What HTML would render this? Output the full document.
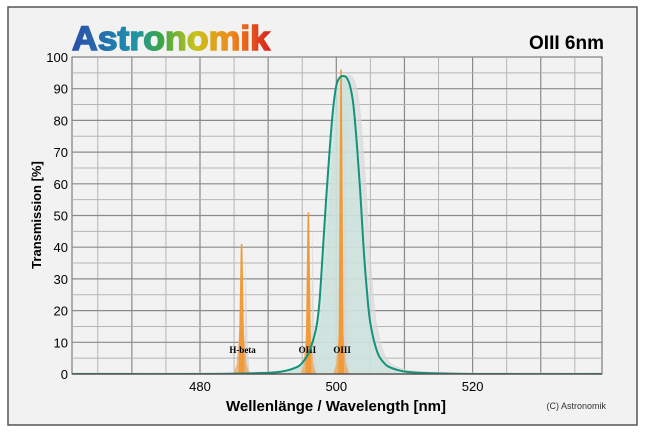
<!DOCTYPE html>
<html><head><meta charset="utf-8"><style>
body{margin:0;width:646px;height:437px;background:#fff;overflow:hidden;font-family:"Liberation Sans",sans-serif}
</style></head><body>
<svg width="646" height="437" xmlns="http://www.w3.org/2000/svg">
<defs>
<linearGradient id="lg" x1="0" x2="1" y1="0" y2="0">
<stop offset="0" stop-color="#2a4fa8"/><stop offset="0.3" stop-color="#1d8fb0"/><stop offset="0.45" stop-color="#3aa646"/><stop offset="0.62" stop-color="#c9c21c"/><stop offset="0.8" stop-color="#ef8a1c"/><stop offset="1" stop-color="#d9221f"/>
</linearGradient>
<clipPath id="pc"><rect x="72" y="50" width="530" height="324"/></clipPath>
</defs>
<rect x="8" y="7" width="629" height="418" fill="#f2f2f2" stroke="#555" stroke-width="1.5"/>
<text x="72" y="50" font-size="34" font-weight="900" fill="url(#lg)" stroke="url(#lg)" stroke-width="1.5" font-family="Liberation Sans, sans-serif" textLength="198" lengthAdjust="spacingAndGlyphs">Astronomik</text>
<text x="604" y="49" font-size="19" font-weight="bold" text-anchor="end" fill="#000">OIII 6nm</text>
<rect x="72" y="57" width="530" height="317" fill="#f2f2f2" stroke="#666"/>
<g id="grid"></g>
<g id="marks" clip-path="url(#pc)"></g>
<g id="axes"></g>
<text x="336" y="411" font-size="15" font-weight="bold" text-anchor="middle">Wellenlänge / Wavelength [nm]</text>
<text transform="translate(41,215) rotate(-90)" font-size="13" font-weight="bold" text-anchor="middle">Transmission [%]</text>
<text x="606" y="409" font-size="9" text-anchor="end" fill="#333">(C) Astronomik</text>
</svg>
<script>
const xTicks=[480,500,520];
const yTicks=[0,10,20,30,40,50,60,70,80,90,100];
const filterNm=[461,480,489,492,494,495,496,497,497.5,498,498.5,499,499.5,500,500.5,501,501.5,502,502.5,503,503.5,504,504.5,505,506,507,508,510,513,520,539];
const filterT=[0,0,0.3,0.8,2,3.5,7,14,22,38,55,70,83,91,93.5,94,93.5,91,85,73,58,40,26,16,7,3.5,2,0.8,0.3,0,0];
const lineNames=["H-beta","OIII","OIII"];
const lineNm=[486.1,495.9,500.7];
const lineT=[41,51,96];
const NS="http://www.w3.org/2000/svg";
const X=nm=>200+(nm-480)*6.815;
const Y=v=>374-v*3.17;
function mk(t,a,p){const e=document.createElementNS(NS,t);for(const k in a)e.setAttribute(k,a[k]);p.appendChild(e);return e;}
const grid=document.getElementById('grid'),marks=document.getElementById('marks'),axes=document.getElementById('axes');
for(let nm=465;nm<539;nm+=5){const major=nm%10===0;
const l=mk('line',{x1:X(nm),x2:X(nm),y1:57,y2:374,stroke:major?'#8a8a8a':'#b5b5b5','stroke-width':major?1.2:1},grid);

}
for(let v=5;v<100;v+=5){const major=v%10===0;
const l=mk('line',{x1:72,x2:602,y1:Y(v),y2:Y(v),stroke:major?'#8a8a8a':'#b5b5b5','stroke-width':major?1.2:1},grid);

}
xTicks.forEach(t=>{const e=mk('text',{x:X(t),y:391,'font-size':13,'text-anchor':'middle'},axes);e.textContent=t;

});
yTicks.forEach(t=>{const e=mk('text',{x:68,y:Y(t)+5,'font-size':13,'text-anchor':'end'},axes);e.textContent=t;

});
function smooth(pts){let d='M'+pts[0][0]+','+pts[0][1];
for(let i=0;i<pts.length-1;i++){const p0=pts[Math.max(0,i-1)],p1=pts[i],p2=pts[i+1],p3=pts[Math.min(pts.length-1,i+2)];
const c1=[p1[0]+(p2[0]-p0[0])/6,p1[1]+(p2[1]-p0[1])/6],c2=[p2[0]-(p3[0]-p1[0])/6,p2[1]-(p3[1]-p1[1])/6];
d+=' C'+c1+' '+c2+' '+p2;}return d;}
const pts=filterNm.map((n,i)=>[X(n),Y(filterT[i])]);
const sh=pts.map(p=>[p[0]+5,p[1]]);
let s=mk('path',{d:smooth(sh),fill:'#dcdcdc',stroke:'#d8d8d8','stroke-width':3,opacity:0.7},marks);


let f=mk('path',{d:smooth(pts)+' Z',fill:'#c9e3dc',opacity:0.75},marks);


lineNm.forEach((n,i)=>{const x=X(n),y=Y(lineT[i]);
const sd=mk('path',{d:`M${x+1},374 L${x+3},${Y(10)} L${x+4},${y+10} L${x+6},${Y(10)} L${x+8},374 Z`,fill:'#d6d6d6',opacity:0.8},marks);


const b=mk('path',{d:`M${x-8},374 L${x-5},${Y(3)} L${x-3},${Y(10)} L${x-2},${Y(15)} L${x+2},${Y(15)} L${x+3},${Y(10)} L${x+5},${Y(3)} L${x+8},374 Z`,fill:'#eba65c',opacity:0.75},marks);


const g=mk('path',{d:`M${x-3},374 L${x-2.5},${Y(10)} L${x-0.8},${y} L${x+0.8},${y} L${x+2.5},${Y(10)} L${x+3},374 Z`,fill:'#f29a38'},marks);


const t=mk('text',{x:x+(i==0?1:i==1?-1:1),y:353,'font-size':9,'font-weight':'bold','text-anchor':'middle','font-family':'Liberation Serif, serif'},marks);t.textContent=lineNames[i];

});
const c=mk('path',{d:smooth(pts),fill:'none',stroke:'#14937a','stroke-width':2},marks);


mk('line',{x1:72,x2:602,y1:374,y2:374,stroke:'#555','stroke-width':1.5},axes);
</script>
</body></html>
